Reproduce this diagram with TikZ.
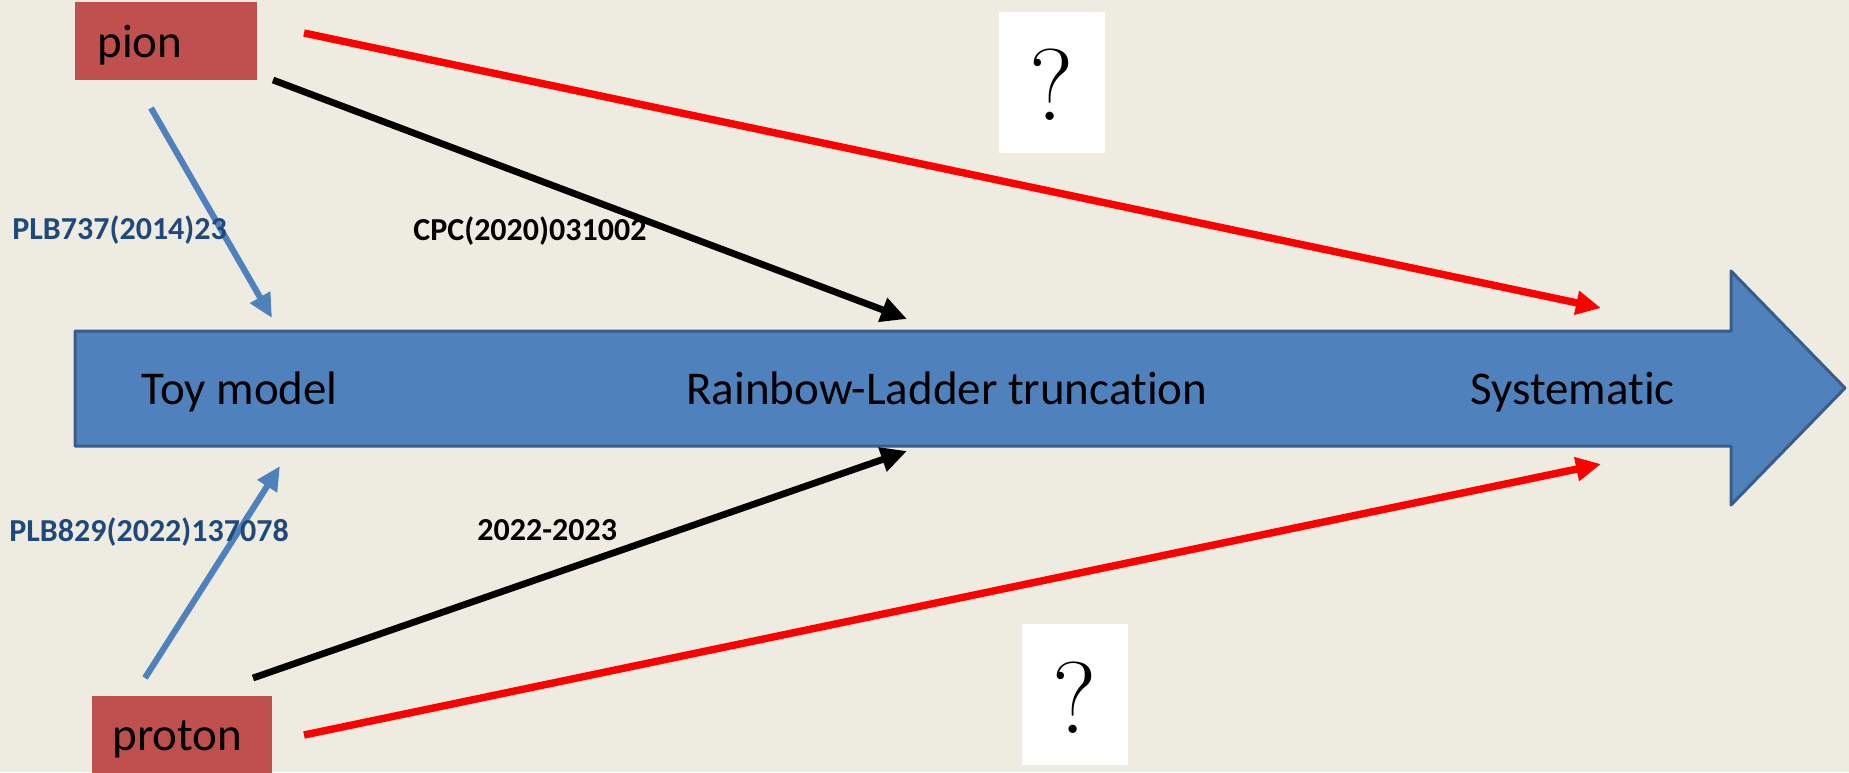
\documentclass[tikz,border=0pt]{standalone}
\usepackage{fontspec}
\newfontfamily\calfont[Ligatures=NoCommon,RawFeature={-liga;-clig;-calt;-dlig}]{Carlito}
\usetikzlibrary{arrows.meta}
\definecolor{bg}{HTML}{EEECE1}
\definecolor{arrowfill}{HTML}{4F81BD}
\definecolor{arrowline}{HTML}{385D8A}
\definecolor{boxred}{HTML}{C0504D}
\definecolor{labblue}{HTML}{1F497D}
\tikzset{
  bigtext/.style={font=\calfont\fontsize{23.5pt}{28pt}\selectfont, inner sep=0pt, anchor=base west},
  labtext/.style={font=\calfont\bfseries\fontsize{16pt}{19pt}\selectfont, inner sep=0pt, anchor=base west},
  partbox/.style={fill=boxred, inner sep=0pt, anchor=north west},
  qbox/.style={fill=white, inner sep=0pt, anchor=north west, minimum width=53pt, minimum height=70.5pt},
  qmark/.style={font=\fontsize{51pt}{60pt}\selectfont, inner sep=0pt},
  redarr/.style={draw=red, line width=3.7pt, -{Triangle[length=12.5pt,width=11.5pt]}},
  blackarr/.style={draw=black, line width=3.4pt, -{Triangle[length=13pt,width=12pt]}},
  bluearr/.style={draw=arrowfill, line width=3.1pt, -{Triangle[length=12pt,width=11pt]}},
}
\begin{document}
\begin{tikzpicture}[x=0.5pt,y=-0.5pt]
\useasboundingbox (0,0) rectangle (1849,772);
\fill[bg] (0,0) rectangle (1849,772);
% big arrow
\draw[fill=arrowfill, draw=arrowline, line width=1.5pt, line join=round]
  (75,331) -- (1731,331) -- (1731,271) -- (1845,388) -- (1731,505) -- (1731,446) -- (75,446) -- cycle;
\node[bigtext] (toy) at (141,404) {Toy model};
\node[bigtext] (rl) at (686,404) {Rainbow-Ladder truncation};
\node[bigtext] (sys) at (1470,404) {Systematic};
% boxes
\node[partbox, minimum width=91pt, minimum height=39pt] (pion) at (75,2) {};
\node[bigtext] (piontext) at (97,57) {pion};
\node[partbox, minimum width=90pt, minimum height=40pt] (proton) at (92,696) {};
\node[bigtext] (protontext) at (112,750) {proton};
% question boxes
\node[qbox] (q1) at (999,12) {};
\node[qmark] (q1m) at (1052,85) {?};
\node[qbox] (q2) at (1022,624) {};
\node[qmark] (q2m) at (1075,698) {?};
% coordinates
\coordinate (redA) at (304,33);
\coordinate (redAend) at (1601,308);
\coordinate (redB) at (304,735);
\coordinate (redBend) at (1601,464);
\coordinate (blkA) at (273,80);
\coordinate (blkAend) at (907,319);
\coordinate (blkB) at (253,678);
\coordinate (blkBend) at (907,451);
\coordinate (bluA) at (151,108);
\coordinate (bluAend) at (272,318);
\coordinate (bluB) at (145,678);
\coordinate (bluBend) at (280,466);
\draw[redarr] (redA) -- (redAend);
\draw[redarr] (redB) -- (redBend);
\draw[blackarr] (blkA) -- (blkAend);
\draw[blackarr] (blkB) -- (blkBend);
\draw[bluearr] (bluA) -- (bluAend);
\draw[bluearr] (bluB) -- (bluBend);
% labels
\node[labtext, text=labblue] (l1) at (12,239) {PLB737(2014)23};
\node[labtext] (l2) at (413,240) {CPC(2020)031002};
\node[labtext, text=labblue] (l3) at (9,541) {PLB829(2022)137078};
\node[labtext] (l4) at (477,540) {2022-2023};
\end{tikzpicture}
\end{document}
